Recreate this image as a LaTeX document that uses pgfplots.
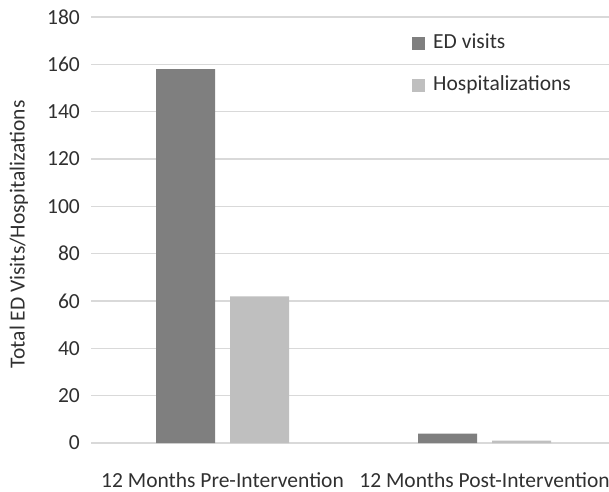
\documentclass[border=0pt]{standalone}
\usepackage{pgfplots}
\pgfplotsset{compat=1.18}
\usepackage{fontspec}
\setmainfont{Carlito}
\definecolor{edgray}{HTML}{7F7F7F}
\definecolor{hospgray}{HTML}{BFBFBF}
\definecolor{gridgray}{HTML}{D9D9D9}
\definecolor{txt}{HTML}{303030}

\begin{document}
\begin{tikzpicture}[x=1pt,y=1pt]
\begin{axis}[
  name=main,
  at={(91pt,48pt)},
  scale only axis,
  width=518pt, height=426pt,
  xmin=-0.502, xmax=1.475,
  ymin=0, ymax=180,
  ytick={0,20,...,180},
  xtick={0,1},
  xticklabels={12 Months Pre-Intervention,12 Months Post-Intervention},
  axis line style={draw=none},
  ymajorgrids,
  grid style={gridgray, line width=1.3pt},
  major tick length=0pt,
  tick label style={font=\fontsize{21.5}{25}\selectfont, text=txt},
  /pgf/number format/assume math mode=true,
  yticklabel style={inner sep=0pt, anchor=east, xshift=-11pt},
  xticklabel style={inner sep=0pt, anchor=base, yshift=-44pt},
  ylabel={Total ED Visits/Hospitalizations},
  ylabel style={font=\fontsize{21.5}{25}\selectfont, text=txt,
    at={(axis description cs:-0.139,0.49)}, anchor=center},
  ybar,
  bar width=59pt,
  legend style={draw=none, fill=none, inner sep=0pt,
    at={(0.6197,0.9624)}, anchor=north west,
    font=\fontsize{21.5}{25}\selectfont, text=txt,
    nodes={inner sep=0pt, text height=15pt, text depth=5pt},
    row sep=22pt, column sep=0pt},
  legend cell align=left,
  legend image code/.code={\fill[#1] (0pt,-6.5pt) rectangle (13pt,6.5pt);
    \path (21pt,0pt);},
  clip=false,
]
\addplot[fill=edgray, draw=none, bar shift=-37pt] coordinates {(0,158) (1,4)};
\addplot[fill=hospgray, draw=none, bar shift=37pt] coordinates {(0,62) (1,1)};
\legend{ED visits, Hospitalizations}
\end{axis}
\pgfresetboundingbox
\path (0,0) rectangle (609,491);
\end{tikzpicture}
\end{document}
